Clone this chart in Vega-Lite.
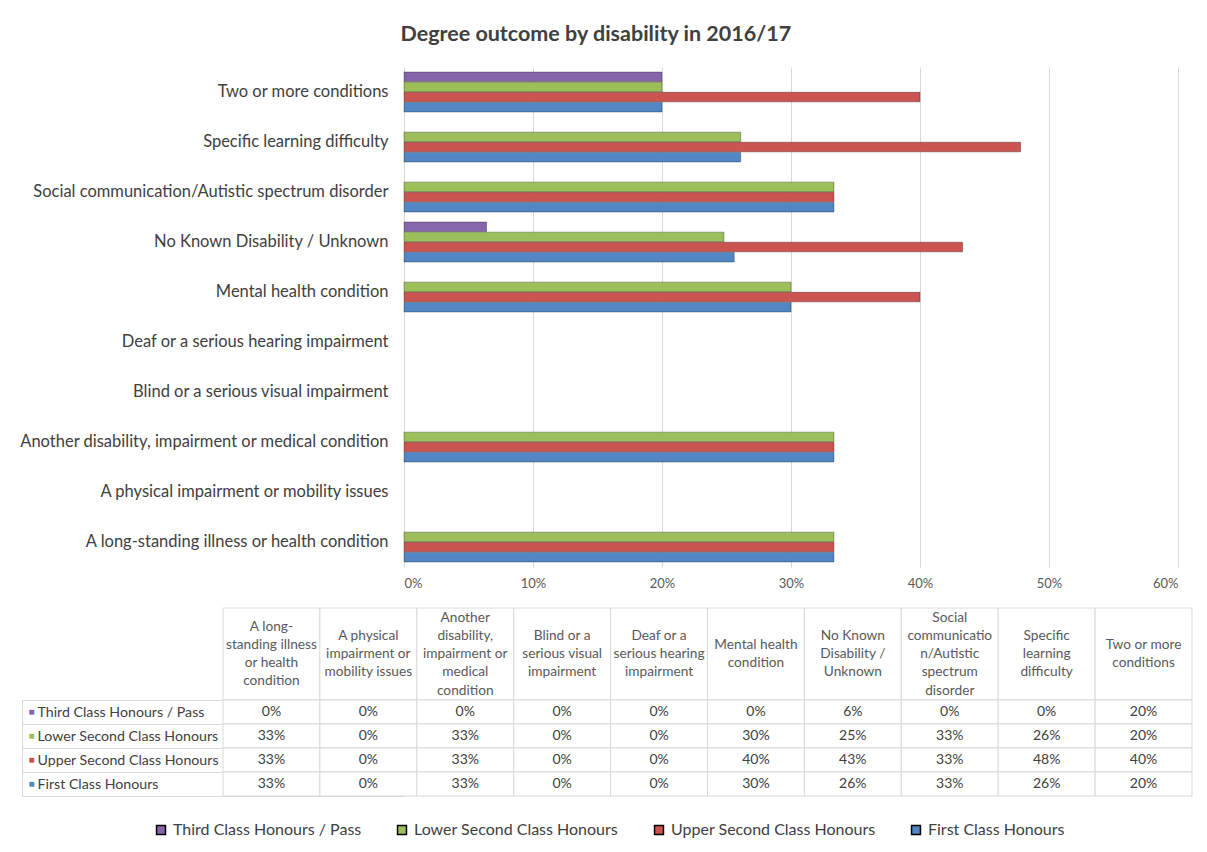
{
  "$schema": "https://vega.github.io/schema/vega-lite/v6.json",
  "background": "white",
  "padding": {"left": 19, "top": 23, "right": 6, "bottom": 6},
  "title": {"text": "Degree outcome by disability in 2016/17", "anchor": "middle", "fontSize": 21.5, "font": "Lato", "fontWeight": "bold", "color": "#404040", "offset": 22, "dx": -10},
  "datasets": {
    "outcomes": [
      {"disability": "A long-standing illness or health condition", "series": "Third Class Honours / Pass", "value": 0},
      {"disability": "A long-standing illness or health condition", "series": "Lower Second Class Honours", "value": 0.3333},
      {"disability": "A long-standing illness or health condition", "series": "Upper Second Class Honours", "value": 0.3333},
      {"disability": "A long-standing illness or health condition", "series": "First Class Honours", "value": 0.3333},
      {"disability": "A physical impairment or mobility issues", "series": "Third Class Honours / Pass", "value": 0},
      {"disability": "A physical impairment or mobility issues", "series": "Lower Second Class Honours", "value": 0},
      {"disability": "A physical impairment or mobility issues", "series": "Upper Second Class Honours", "value": 0},
      {"disability": "A physical impairment or mobility issues", "series": "First Class Honours", "value": 0},
      {"disability": "Another disability, impairment or medical condition", "series": "Third Class Honours / Pass", "value": 0},
      {"disability": "Another disability, impairment or medical condition", "series": "Lower Second Class Honours", "value": 0.3333},
      {"disability": "Another disability, impairment or medical condition", "series": "Upper Second Class Honours", "value": 0.3333},
      {"disability": "Another disability, impairment or medical condition", "series": "First Class Honours", "value": 0.3333},
      {"disability": "Blind or a serious visual impairment", "series": "Third Class Honours / Pass", "value": 0},
      {"disability": "Blind or a serious visual impairment", "series": "Lower Second Class Honours", "value": 0},
      {"disability": "Blind or a serious visual impairment", "series": "Upper Second Class Honours", "value": 0},
      {"disability": "Blind or a serious visual impairment", "series": "First Class Honours", "value": 0},
      {"disability": "Deaf or a serious hearing impairment", "series": "Third Class Honours / Pass", "value": 0},
      {"disability": "Deaf or a serious hearing impairment", "series": "Lower Second Class Honours", "value": 0},
      {"disability": "Deaf or a serious hearing impairment", "series": "Upper Second Class Honours", "value": 0},
      {"disability": "Deaf or a serious hearing impairment", "series": "First Class Honours", "value": 0},
      {"disability": "Mental health condition", "series": "Third Class Honours / Pass", "value": 0},
      {"disability": "Mental health condition", "series": "Lower Second Class Honours", "value": 0.30},
      {"disability": "Mental health condition", "series": "Upper Second Class Honours", "value": 0.40},
      {"disability": "Mental health condition", "series": "First Class Honours", "value": 0.30},
      {"disability": "No Known Disability / Unknown", "series": "Third Class Honours / Pass", "value": 0.064},
      {"disability": "No Known Disability / Unknown", "series": "Lower Second Class Honours", "value": 0.248},
      {"disability": "No Known Disability / Unknown", "series": "Upper Second Class Honours", "value": 0.433},
      {"disability": "No Known Disability / Unknown", "series": "First Class Honours", "value": 0.256},
      {"disability": "Social communication/Autistic spectrum disorder", "series": "Third Class Honours / Pass", "value": 0},
      {"disability": "Social communication/Autistic spectrum disorder", "series": "Lower Second Class Honours", "value": 0.3333},
      {"disability": "Social communication/Autistic spectrum disorder", "series": "Upper Second Class Honours", "value": 0.3333},
      {"disability": "Social communication/Autistic spectrum disorder", "series": "First Class Honours", "value": 0.3333},
      {"disability": "Specific learning difficulty", "series": "Third Class Honours / Pass", "value": 0},
      {"disability": "Specific learning difficulty", "series": "Lower Second Class Honours", "value": 0.261},
      {"disability": "Specific learning difficulty", "series": "Upper Second Class Honours", "value": 0.478},
      {"disability": "Specific learning difficulty", "series": "First Class Honours", "value": 0.261},
      {"disability": "Two or more conditions", "series": "Third Class Honours / Pass", "value": 0.20},
      {"disability": "Two or more conditions", "series": "Lower Second Class Honours", "value": 0.20},
      {"disability": "Two or more conditions", "series": "Upper Second Class Honours", "value": 0.40},
      {"disability": "Two or more conditions", "series": "First Class Honours", "value": 0.20}
    ],
    "headers": [
      {"disability": "A long-standing illness or health condition", "header": "A long-\nstanding illness\nor health\ncondition"},
      {"disability": "A physical impairment or mobility issues", "header": "A physical\nimpairment or\nmobility issues"},
      {"disability": "Another disability, impairment or medical condition", "header": "Another\ndisability,\nimpairment or\nmedical\ncondition"},
      {"disability": "Blind or a serious visual impairment", "header": "Blind or a\nserious visual\nimpairment"},
      {"disability": "Deaf or a serious hearing impairment", "header": "Deaf or a\nserious hearing\nimpairment"},
      {"disability": "Mental health condition", "header": "Mental health\ncondition"},
      {"disability": "No Known Disability / Unknown", "header": "No Known\nDisability /\nUnknown"},
      {"disability": "Social communication/Autistic spectrum disorder", "header": "Social\ncommunicatio\nn/Autistic\nspectrum\ndisorder"},
      {"disability": "Specific learning difficulty", "header": "Specific\nlearning\ndifficulty"},
      {"disability": "Two or more conditions", "header": "Two or more\nconditions"}
    ]
  },
  "spacing": 17,
  "vconcat": [
    {
      "width": 774,
      "height": 500,
      "data": {"name": "outcomes"},
      "transform": [{"filter": "datum.value > 0"}],
      "mark": {"type": "bar", "stroke": "#000000", "strokeOpacity": 0.3, "strokeWidth": 1},
      "encoding": {
        "y": {
          "field": "disability", "type": "nominal",
          "scale": {
            "domain": ["Two or more conditions", "Specific learning difficulty", "Social communication/Autistic spectrum disorder", "No Known Disability / Unknown", "Mental health condition", "Deaf or a serious hearing impairment", "Blind or a serious visual impairment", "Another disability, impairment or medical condition", "A physical impairment or mobility issues", "A long-standing illness or health condition"],
            "paddingInner": 0.2, "paddingOuter": 0.1
          },
          "axis": {"title": null, "ticks": false, "domain": false, "labelFontSize": 16.5, "labelColor": "#404040", "labelPadding": 16, "labelLimit": 0}
        },
        "yOffset": {
          "field": "series", "type": "nominal",
          "scale": {"domain": ["Third Class Honours / Pass", "Lower Second Class Honours", "Upper Second Class Honours", "First Class Honours"], "paddingInner": 0.05}
        },
        "x": {
          "field": "value", "type": "quantitative",
          "scale": {"domain": [0, 0.6], "nice": false},
          "axis": {"title": null, "format": ".0%", "values": [0, 0.1, 0.2, 0.3, 0.4, 0.5, 0.6], "grid": true, "gridColor": "#d9d9d9", "ticks": false, "domain": false, "labelFontSize": 13, "labelColor": "#595959", "labelPadding": 10}
        },
        "color": {
          "field": "series", "type": "nominal",
          "scale": {"domain": ["Third Class Honours / Pass", "Lower Second Class Honours", "Upper Second Class Honours", "First Class Honours"], "range": ["#8566AA", "#9CBF5A", "#CB5450", "#5286C4"]},
          "legend": {"title": null, "orient": "none", "legendX": -251, "legendY": 755, "padding": 0, "direction": "horizontal", "symbolType": "square", "symbolSize": 80, "labelOffset": 4, "labelFontSize": 16, "labelColor": "#404040", "labelLimit": 0, "columnPadding": 32}
        }
      }
    },
    {
      "spacing": 0,
      "bounds": "flush",
      "vconcat": [
        {
          "width": 788,
          "height": 92,
          "data": {"name": "headers"},
          "encoding": {
            "x": {
              "field": "disability", "type": "nominal",
              "scale": {"domain": ["A long-standing illness or health condition", "A physical impairment or mobility issues", "Another disability, impairment or medical condition", "Blind or a serious visual impairment", "Deaf or a serious hearing impairment", "Mental health condition", "No Known Disability / Unknown", "Social communication/Autistic spectrum disorder", "Specific learning difficulty", "Two or more conditions"], "range": [-181, 788], "paddingInner": 0, "paddingOuter": 0},
              "axis": null
            },
            "text": {"field": "header"}
          },
          "layer": [
            {"mark": {"type": "rect", "fill": "white", "stroke": "#d9d9d9", "strokeWidth": 1}, "encoding": {"text": null}},
            {"transform": [{"filter": "length(split(datum.header, '\\n')) == 2"}], "mark": {"type": "text", "lineBreak": "\n", "fontSize": 13.7, "color": "#595959", "lineHeight": 18.25, "baseline": "middle", "dy": -9.125}},
            {"transform": [{"filter": "length(split(datum.header, '\\n')) == 3"}], "mark": {"type": "text", "lineBreak": "\n", "fontSize": 13.7, "color": "#595959", "lineHeight": 18.25, "baseline": "middle", "dy": -18.25}},
            {"transform": [{"filter": "length(split(datum.header, '\\n')) == 4"}], "mark": {"type": "text", "lineBreak": "\n", "fontSize": 13.7, "color": "#595959", "lineHeight": 18.25, "baseline": "middle", "dy": -27.375}},
            {"transform": [{"filter": "length(split(datum.header, '\\n')) == 5"}], "mark": {"type": "text", "lineBreak": "\n", "fontSize": 13.7, "color": "#595959", "lineHeight": 18.25, "baseline": "middle", "dy": -36.5}}
          ]
        },
        {
          "width": 788,
          "height": 96,
          "data": {"name": "outcomes"},
          "encoding": {
            "x": {
              "field": "disability", "type": "nominal",
              "scale": {"domain": ["A long-standing illness or health condition", "A physical impairment or mobility issues", "Another disability, impairment or medical condition", "Blind or a serious visual impairment", "Deaf or a serious hearing impairment", "Mental health condition", "No Known Disability / Unknown", "Social communication/Autistic spectrum disorder", "Specific learning difficulty", "Two or more conditions"], "range": [-181, 788], "paddingInner": 0, "paddingOuter": 0},
              "axis": null
            }
          },
          "layer": [
            {
              "mark": {"type": "rect", "fill": "white", "stroke": "#d9d9d9", "strokeWidth": 1},
              "encoding": {
                "y": {
                  "field": "series", "type": "nominal",
                  "scale": {"domain": ["Third Class Honours / Pass", "Lower Second Class Honours", "Upper Second Class Honours", "First Class Honours"], "paddingInner": 0, "paddingOuter": 0},
                  "axis": {"title": null, "orient": "left", "domain": false, "ticks": true, "tickBand": "extent", "tickSize": 382, "tickColor": "#d9d9d9", "labelAlign": "left", "labelPadding": -15, "labelFontSize": 14.2, "labelColor": "#404040", "labelLimit": 0, "zindex": 0}
                }
              }
            },
            {
              "mark": {"type": "text", "fontSize": 14, "color": "#404040"},
              "encoding": {
                "y": {
                  "field": "series", "type": "nominal",
                  "scale": {"domain": ["Third Class Honours / Pass", "Lower Second Class Honours", "Upper Second Class Honours", "First Class Honours"], "paddingInner": 0, "paddingOuter": 0},
                  "axis": {"title": null, "orient": "left", "domain": true, "domainColor": "#d9d9d9", "offset": 382, "ticks": false, "labelExpr": "'■'", "labelAlign": "left", "labelPadding": -6, "labelFontSize": 10,
                    "labelColor": {"condition": [
                      {"test": "datum.value == 'Third Class Honours / Pass'", "value": "#8566AA"},
                      {"test": "datum.value == 'Lower Second Class Honours'", "value": "#9CBF5A"},
                      {"test": "datum.value == 'Upper Second Class Honours'", "value": "#CB5450"}
                    ], "value": "#5286C4"}}
                },
                "text": {"field": "value", "type": "quantitative", "format": ".0%"}
              }
            }
          ],
          "resolve": {"axis": {"y": "independent"}}
        }
      ]
    }
  ],
  "config": {
    "font": "Lato",
    "view": {"stroke": null}
  }
}
